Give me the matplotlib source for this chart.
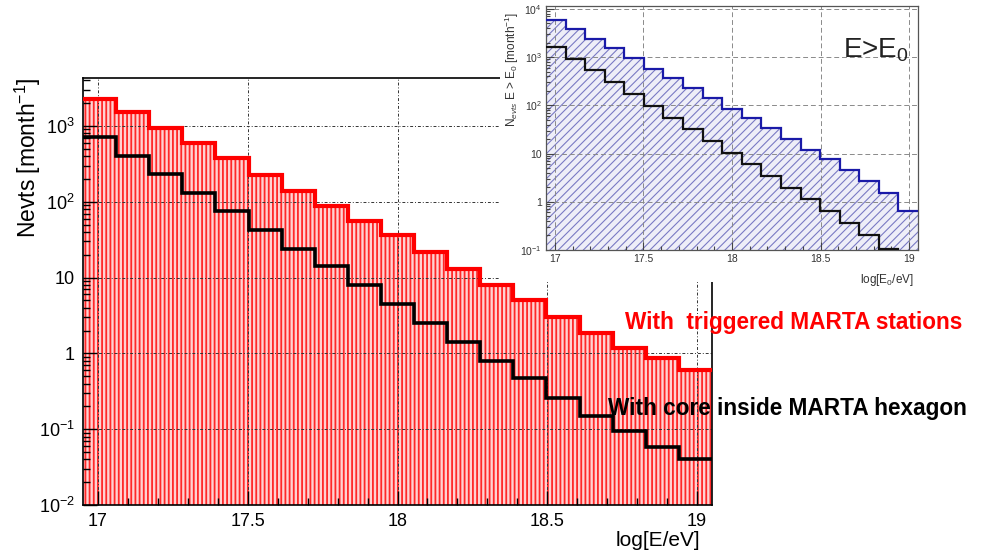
import numpy as np
import matplotlib
matplotlib.use("Agg")
import matplotlib.pyplot as plt
from matplotlib.ticker import FixedLocator, FixedFormatter, LogLocator, MultipleLocator, NullFormatter

plt.rcParams['font.family'] = ['Liberation Sans', 'DejaVu Sans']
plt.rcParams['mathtext.fontset'] = 'custom'
plt.rcParams['mathtext.rm'] = 'Liberation Sans'
plt.rcParams['mathtext.it'] = 'Liberation Sans:italic'
plt.rcParams['mathtext.bf'] = 'Liberation Sans:bold'

# ---------------- data ----------------
bin_edges = np.linspace(16.95, 19.05, 20)  # log10(E/eV) bins

# main panel: differential events per month
triggered = [2300, 1525, 950, 593, 373, 226, 139, 88, 55, 36,
             21.9, 12.9, 7.9, 5.0, 3.0, 1.85, 1.17, 0.86, 0.61]
core_inside = [725, 404, 233, 131, 75, 42.5, 24.2, 14.4, 8.0, 4.5,
               2.54, 1.43, 0.80, 0.47, 0.26, 0.15, 0.095, 0.058, 0.040]

# inset: integral events E > E0 per month
inset_triggered = [6000, 3790, 2370, 1527, 970, 578, 361, 226, 141, 85.6,
                   53.5, 33.4, 20.0, 12.1, 7.66, 4.64, 2.73, 1.53, 0.635]
inset_core = [1650, 925, 535, 309, 173, 98.5, 55, 31.8, 18.4, 10.5,
              6.15, 3.44, 1.96, 1.15, 0.635, 0.36, 0.206, 0.105, 0.06]

x_ticks = [17, 17.5, 18, 18.5, 19]
x_tick_labels = ['17', '17.5', '18', '18.5', '19']
y_ticks_main = [1e-2, 1e-1, 1, 10, 1e2, 1e3]
y_labels_main = ['$10^{-2}$', '$10^{-1}$', '1', '10', '$10^{2}$', '$10^{3}$']
y_ticks_inset = [1e-1, 1, 10, 1e2, 1e3, 1e4]
y_labels_inset = ['$10^{-1}$', '1', '10', '$10^{2}$', '$10^{3}$', '$10^{4}$']

W, H = 982, 557
fig = plt.figure(figsize=(W / 100, H / 100), dpi=100)


def fx(px):
    return px / W


def fy(py):
    return 1 - py / H


# ---------------- main axes ----------------
ax = fig.add_axes([fx(83), fy(505), fx(712) - fx(83), fy(78) - fy(505)])
ax.set_yscale('log')
ax.set_xlim(16.95, 19.05)
ax.set_ylim(1e-2, 4300)

plt.rcParams['hatch.linewidth'] = 1.3
fill = ax.stairs(triggered, bin_edges, baseline=1e-2, fill=True,
                 facecolor='#ffd2d2', edgecolor='#ff2828', linewidth=0,
                 hatch='||||', zorder=1)
try:
    fill.set_hatch_linewidth(1.3)
except Exception:
    pass
ax.stairs(triggered, bin_edges, baseline=None, color='#ff0000', linewidth=3.0, zorder=3)
ax.stairs(core_inside, bin_edges, baseline=None, color='#000000', linewidth=2.6, zorder=3)

ax.set_axisbelow('line')
ax.grid(True, which='major', color='#333333', linestyle=(0, (3, 2, 1, 2)), linewidth=0.7)

ax.xaxis.set_major_locator(FixedLocator(x_ticks))
ax.xaxis.set_major_formatter(FixedFormatter(x_tick_labels))
ax.xaxis.set_minor_locator(MultipleLocator(0.1))
ax.yaxis.set_major_locator(FixedLocator(y_ticks_main))
ax.yaxis.set_major_formatter(FixedFormatter(y_labels_main))
ax.yaxis.set_minor_locator(LogLocator(base=10, subs=np.arange(2, 10), numticks=20))
ax.yaxis.set_minor_formatter(NullFormatter())
ax.tick_params(axis='both', which='both', direction='in', top=False, right=False,
               labelsize=13, color='black')
ax.tick_params(axis='both', which='major', length=10, width=1.0, pad=6)
ax.tick_params(axis='both', which='minor', length=5, width=1.0)
for s in ax.spines.values():
    s.set_linewidth(1.2)

fig.text(fx(28), fy(158), 'Nevts [month$^{-1}$]', rotation=90, ha='center', va='center',
         fontsize=16.5)
fig.text(fx(700), fy(541), 'log[E/eV]', ha='right', va='center', fontsize=15)

fig.text(fx(625), fy(323), 'With  triggered MARTA stations', color='#ff0000',
         fontweight='bold', fontsize=16.3, ha='left', va='center')
fig.text(fx(608), fy(409), 'With core inside MARTA hexagon', color='black',
         fontweight='bold', fontsize=16.3, ha='left', va='center')

# ---------------- inset ----------------
bg = plt.Rectangle((fx(500), fy(282)), fx(930) - fx(500), fy(0) - fy(282),
                   transform=fig.transFigure, facecolor='white', edgecolor='none', zorder=5)
fig.add_artist(bg)

axi = fig.add_axes([fx(546), fy(250), fx(918) - fx(546), fy(6) - fy(250)])
axi.set_zorder(10)
axi.set_yscale('log')
axi.set_xlim(16.95, 19.05)
axi.set_ylim(1e-1, 1.15e4)

plt.rcParams['hatch.linewidth'] = 0.8
fi = axi.stairs(inset_triggered, bin_edges, baseline=1e-1, fill=True,
                facecolor='#eeeef8', edgecolor='#7a7ac4', linewidth=0,
                hatch='////', zorder=1)
try:
    fi.set_hatch_linewidth(0.8)
except Exception:
    pass
axi.stairs(inset_triggered, bin_edges, baseline=None, color='#1a1aa8', linewidth=1.6, zorder=3)
axi.stairs(inset_core, bin_edges, baseline=None, color='#111111', linewidth=1.6, zorder=3)

axi.set_axisbelow('line')
axi.grid(True, which='major', color='#8a8a8a', linestyle=(0, (5, 3)), linewidth=0.7)
axi.xaxis.set_major_locator(FixedLocator(x_ticks))
axi.xaxis.set_major_formatter(FixedFormatter(x_tick_labels))
axi.xaxis.set_minor_locator(MultipleLocator(0.1))
axi.yaxis.set_major_locator(FixedLocator(y_ticks_inset))
axi.yaxis.set_major_formatter(FixedFormatter(y_labels_inset))
axi.yaxis.set_minor_locator(LogLocator(base=10, subs=np.arange(2, 10), numticks=20))
axi.yaxis.set_minor_formatter(NullFormatter())
axi.tick_params(axis='both', which='both', direction='in', top=False, right=False,
                labelsize=7.5, color='#444444', labelcolor='#333333')
axi.tick_params(axis='both', which='major', length=6, width=0.8, pad=3)
axi.tick_params(axis='both', which='minor', length=3, width=0.8)
for s in axi.spines.values():
    s.set_linewidth(0.9)
    s.set_color('#555555')

axi.text(0.99, -0.09, 'log[E$_0$/eV]', transform=axi.transAxes, ha='right', va='top',
         fontsize=8.5, color='#333333')
fig.text(fx(512), fy(70), 'N$_{evts}$ E > E$_0$ [month$^{-1}$]', rotation=90,
         ha='center', va='center', fontsize=8.5, color='#333333', zorder=12)
fig.text(fx(843), fy(50), 'E>E$_0$', ha='left', va='center',
         fontsize=20, color='#222222', zorder=12)

fig.savefig('out.png', dpi=100)
